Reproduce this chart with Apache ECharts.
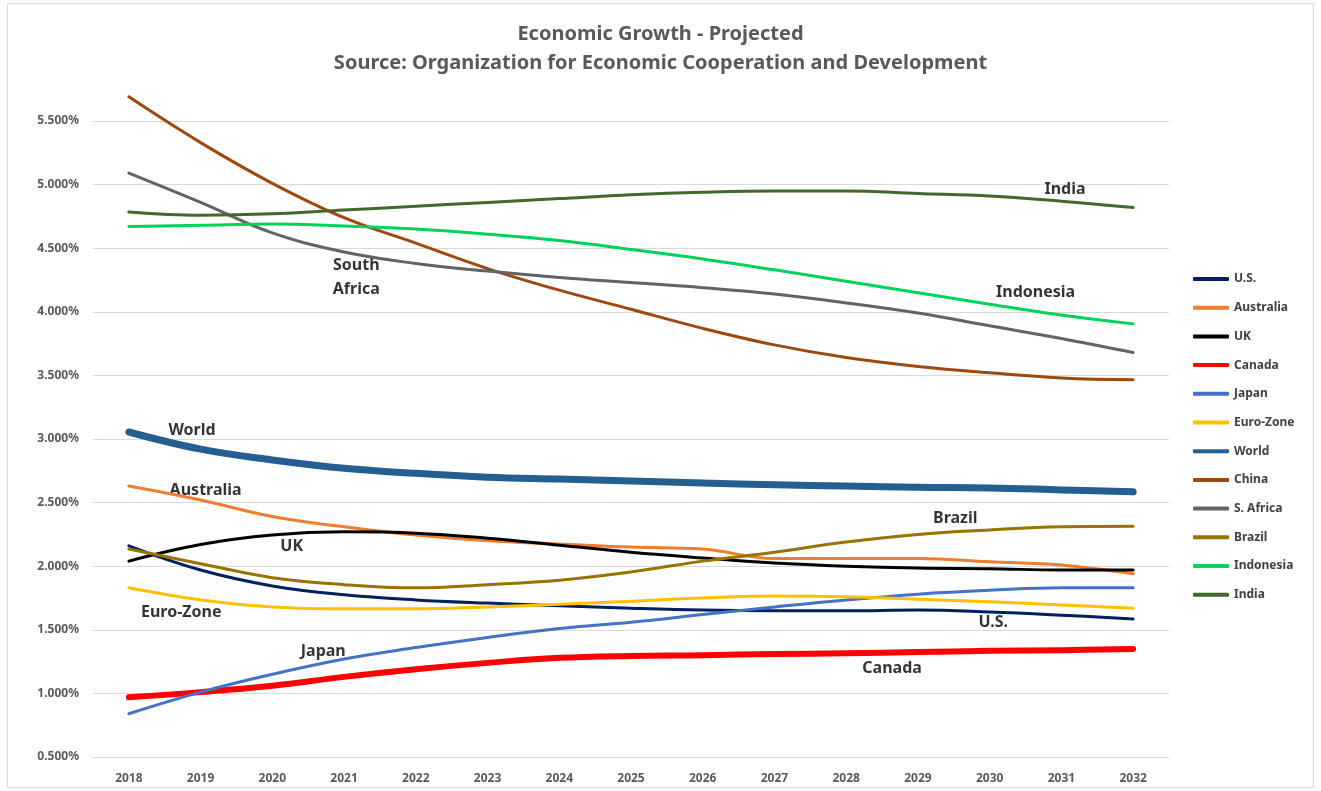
<!DOCTYPE html>
<html style="height: 100%">
<head>
    <meta charset="utf-8">
    <title>Economic Growth - Projected</title>
    <script src="https://cdn.jsdelivr.net/npm/echarts@6/dist/echarts.min.js"></script>
</head>
<body style="height: 100%; margin: 0; background: #fff">
    <div id="container" style="width: 1321px; height: 791px"></div>
    <script type="text/javascript">

        // years on the x axis
        let years = ['2018', '2019', '2020', '2021', '2022', '2023', '2024', '2025',
                     '2026', '2027', '2028', '2029', '2030', '2031', '2032'];

        // projected growth, percent
        let us        = [2.16, 1.97, 1.845, 1.775, 1.735, 1.71, 1.69, 1.67, 1.655, 1.65, 1.65, 1.655, 1.64, 1.615, 1.585];
        let australia = [2.63, 2.52, 2.39, 2.31, 2.245, 2.20, 2.175, 2.15, 2.135, 2.06, 2.06, 2.06, 2.035, 2.01, 1.94];
        let uk        = [2.04, 2.17, 2.245, 2.27, 2.26, 2.22, 2.165, 2.11, 2.065, 2.025, 2.00, 1.985, 1.98, 1.97, 1.97];
        let canada    = [0.97, 1.01, 1.06, 1.13, 1.19, 1.24, 1.28, 1.295, 1.30, 1.31, 1.315, 1.325, 1.335, 1.34, 1.35];
        let japan     = [0.84, 1.01, 1.15, 1.27, 1.36, 1.44, 1.51, 1.56, 1.62, 1.68, 1.735, 1.78, 1.81, 1.83, 1.83];
        let euroZone  = [1.83, 1.735, 1.68, 1.665, 1.665, 1.68, 1.70, 1.725, 1.75, 1.765, 1.76, 1.74, 1.72, 1.695, 1.67];
        let world     = [3.055, 2.92, 2.835, 2.77, 2.73, 2.70, 2.685, 2.67, 2.655, 2.64, 2.63, 2.62, 2.615, 2.60, 2.585];
        let china     = [5.69, 5.33, 5.01, 4.74, 4.54, 4.34, 4.17, 4.02, 3.87, 3.74, 3.64, 3.57, 3.52, 3.48, 3.465];
        let sAfrica   = [5.09, 4.86, 4.62, 4.47, 4.38, 4.32, 4.27, 4.23, 4.19, 4.14, 4.07, 3.99, 3.89, 3.79, 3.68];
        let brazil    = [2.135, 2.02, 1.91, 1.855, 1.83, 1.855, 1.89, 1.955, 2.04, 2.11, 2.19, 2.25, 2.285, 2.31, 2.315];
        let indonesia = [4.67, 4.68, 4.69, 4.675, 4.65, 4.61, 4.56, 4.49, 4.415, 4.33, 4.24, 4.15, 4.06, 3.975, 3.905];
        let india     = [4.785, 4.76, 4.77, 4.80, 4.83, 4.86, 4.89, 4.92, 4.94, 4.95, 4.95, 4.93, 4.91, 4.87, 4.82];

        let seriesNames  = ['U.S.', 'Australia', 'UK', 'Canada', 'Japan', 'Euro-Zone', 'World', 'China', 'S. Africa', 'Brazil', 'Indonesia', 'India'];
        let seriesData   = [us, australia, uk, canada, japan, euroZone, world, china, sAfrica, brazil, indonesia, india];
        let seriesColors = ['#002060', '#ED7D31', '#000000', '#FF0000', '#4472C4', '#FFC000', '#255E91', '#9E480E', '#636363', '#997300', '#00D25A', '#43682B'];
        let seriesWidths = [3, 3, 3, 6, 3, 3, 7, 3, 3, 3, 3, 3];

        // text labels placed in the plot: [year index, value, text]
        let notes = [
            [0.89, 5.547, 'China'],
            [3.17, 4.274, 'South\nAfrica'],
            [13.05, 4.965, 'India'],
            [12.64, 4.156, 'Indonesia'],
            [0.88, 3.071, 'World'],
            [1.07, 2.599, 'Australia'],
            [2.27, 2.159, 'UK'],
            [11.52, 2.379, 'Brazil'],
            [0.73, 1.640, 'Euro-Zone'],
            [12.05, 1.561, 'U.S.'],
            [2.71, 1.333, 'Japan'],
            [10.64, 1.200, 'Canada']
        ];

        let font = 'Noto Sans';
        let grey = '#595959';

        let series = seriesNames.map((name, i) => ({
            name: name,
            type: 'line',
            data: seriesData[i],
            smooth: 0.4,
            showSymbol: false,
            clip: false,
            color: seriesColors[i],
            lineStyle: { width: seriesWidths[i], color: seriesColors[i], cap: 'round', join: 'round' },
            emphasis: { disabled: true }
        }));

        series.push({
            type: 'scatter',
            xAxisIndex: 1,
            data: notes,
            symbolSize: 0,
            silent: true,
            label: {
                show: true,
                position: 'inside',
                formatter: p => p.data[2],
                color: '#000',
                fontFamily: font,
                fontWeight: 'bold',
                fontSize: 16,
                lineHeight: 24
            }
        });

        let dom = document.getElementById('container');
        let chart = echarts.init(dom);
        chart.setOption({
            backgroundColor: '#fff',
            animation: false,
            title: {
                text: 'Economic Growth - Projected\nSource: Organization for Economic Cooperation and Development',
                left: 'center',
                top: 15,
                textStyle: { color: grey, fontFamily: font, fontWeight: 'bold', fontSize: 20, lineHeight: 29 }
            },
            legend: {
                data: seriesNames,
                orient: 'vertical',
                left: 1188,
                top: 266,
                itemWidth: 36,
                itemHeight: 4,
                itemGap: 12.7,
                icon: 'roundRect',
                textStyle: { color: '#404040', fontFamily: font, fontWeight: 'bold', fontSize: 12, lineHeight: 16 }
            },
            graphic: [{
                type: 'rect',
                shape: { x: 7.5, y: 3.5, width: 1306, height: 784 },
                style: { fill: 'none', stroke: '#d9d9d9', lineWidth: 1 },
                silent: true
            }],
            grid: { left: 93, right: 152, top: 121, bottom: 34 },
            xAxis: [{
                type: 'category',
                data: years,
                axisLine: { lineStyle: { color: '#d9d9d9' } },
                axisTick: { show: false },
                axisLabel: { color: grey, fontFamily: font, fontWeight: 'bold', fontSize: 12, margin: 16 }
            }, {
                type: 'value',
                min: -0.5,
                max: 14.5,
                show: false
            }],
            yAxis: {
                type: 'value',
                min: 0.5,
                max: 5.5,
                interval: 0.5,
                axisLine: { show: false },
                axisTick: { show: false },
                splitLine: { lineStyle: { color: '#d9d9d9', width: 1 } },
                axisLabel: {
                    color: grey, fontFamily: font, fontWeight: 'bold', fontSize: 12, margin: 14,
                    formatter: v => v.toFixed(3) + '%'
                }
            },
            series: series
        });

    </script>
</body>
</html>
